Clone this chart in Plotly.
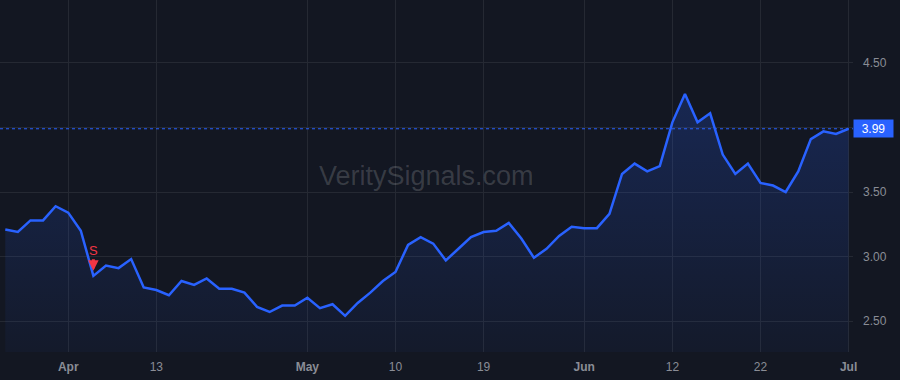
import pandas as pd
import plotly.graph_objects as go

# ---- data ----
holidays = ["2023-04-07", "2023-05-29", "2023-06-19"]
dates = [d.strftime("%Y-%m-%d") for d in pd.bdate_range("2023-03-27", "2023-07-03")
         if d.strftime("%Y-%m-%d") not in holidays]
values = [3.21, 3.19, 3.28, 3.28, 3.39, 3.34, 3.20, 2.85, 2.93, 2.91,
          2.98, 2.76, 2.74, 2.70, 2.81, 2.78, 2.83, 2.75, 2.75, 2.72,
          2.61, 2.57, 2.62, 2.62, 2.68, 2.60, 2.63, 2.54, 2.64, 2.72,
          2.81, 2.88, 3.09, 3.15, 3.10, 2.97, 3.06, 3.15, 3.19, 3.20,
          3.26, 3.14, 2.99, 3.06, 3.16, 3.23, 3.22, 3.22, 3.33, 3.64,
          3.72, 3.66, 3.70, 4.04, 4.26, 4.04, 4.11, 3.79, 3.64, 3.72,
          3.57, 3.55, 3.50, 3.66, 3.91, 3.97, 3.95, 3.99]
tick_dates = ["2023-04-03", "2023-04-13", "2023-05-01", "2023-05-10", "2023-05-19",
              "2023-06-01", "2023-06-12", "2023-06-22", "2023-07-03"]
tick_labels = ["<b>Apr</b>", "13", "<b>May</b>", "10", "19", "<b>Jun</b>", "12", "22", "<b>Jul</b>"]
y_ticks = [2.5, 3.0, 3.5, 4.0, 4.5]
y_labels = ["2.50", "3.00", "3.50", "", "4.50"]
signal_date = "2023-04-05"
signal_text = "S"
last_value = values[-1]

BG = "#131722"
GRID = "#252933"
BLUE = "#2962FF"
TXT = "#8a8d96"
RED = "#F23645"
FONT = "Liberation Sans, Arial"

fig = go.Figure()
fig.add_trace(go.Scatter(
    x=dates, y=values, mode="lines",
    line=dict(color=BLUE, width=2.5),
    fill="tozeroy",
    fillgradient=dict(type="vertical", start=2.26, stop=4.3,
                      colorscale=[[0, "rgba(41,98,255,0.04)"], [1, "rgba(41,98,255,0.22)"]]),
    hoverinfo="skip", showlegend=False,
))

fig.add_shape(type="line", xref="paper", x0=0, x1=1, yref="y", y0=last_value, y1=last_value,
              line=dict(color=BLUE, width=1, dash="dot"))

fig.add_annotation(xref="paper", x=1, xanchor="left", yref="y", y=last_value,
                   text=f"{last_value:.2f}", showarrow=False, bgcolor=BLUE,
                   font=dict(color="white", size=12, family=FONT),
                   width=37, height=15, borderpad=1, align="center", valign="middle")

si = dates.index(signal_date)
# signal arrow
fig.add_annotation(x=signal_date, y=values[si], text="", showarrow=True,
                   ax=0, ay=-18, arrowcolor=RED, arrowwidth=3, arrowhead=2, arrowsize=0.7,
                   standoff=5)
# signal letter
fig.add_annotation(x=signal_date, y=values[si], text=signal_text, showarrow=False,
                   yshift=25, font=dict(color=RED, size=13, family=FONT))

fig.add_annotation(xref="paper", yref="paper", x=0.5, y=0.5, text="VeritySignals.com",
                   showarrow=False, font=dict(color="rgba(255,255,255,0.16)", size=27,
                                              family=FONT))

fig.update_layout(
    width=900, height=380,
    margin=dict(l=0, r=47, t=0, b=28),
    paper_bgcolor=BG, plot_bgcolor=BG,
    font=dict(family=FONT, size=12, color=TXT),
    xaxis=dict(type="category", range=[-0.42, len(dates) - 1 + 0.35],
               tickmode="array", tickvals=tick_dates, ticktext=tick_labels,
               showgrid=True, gridcolor=GRID, gridwidth=1, zeroline=False,
               showline=False, ticks="", ticklabelstandoff=6,
               tickfont=dict(color=TXT, size=12)),
    yaxis=dict(side="right", range=[2.26, 4.988], tickmode="array",
               tickvals=y_ticks, ticktext=y_labels, showgrid=True, gridcolor=GRID,
               zeroline=False, showline=False, ticks="", ticklabelstandoff=9,
               tickfont=dict(color=TXT, size=12)),
)

fig.write_html("out.html")
